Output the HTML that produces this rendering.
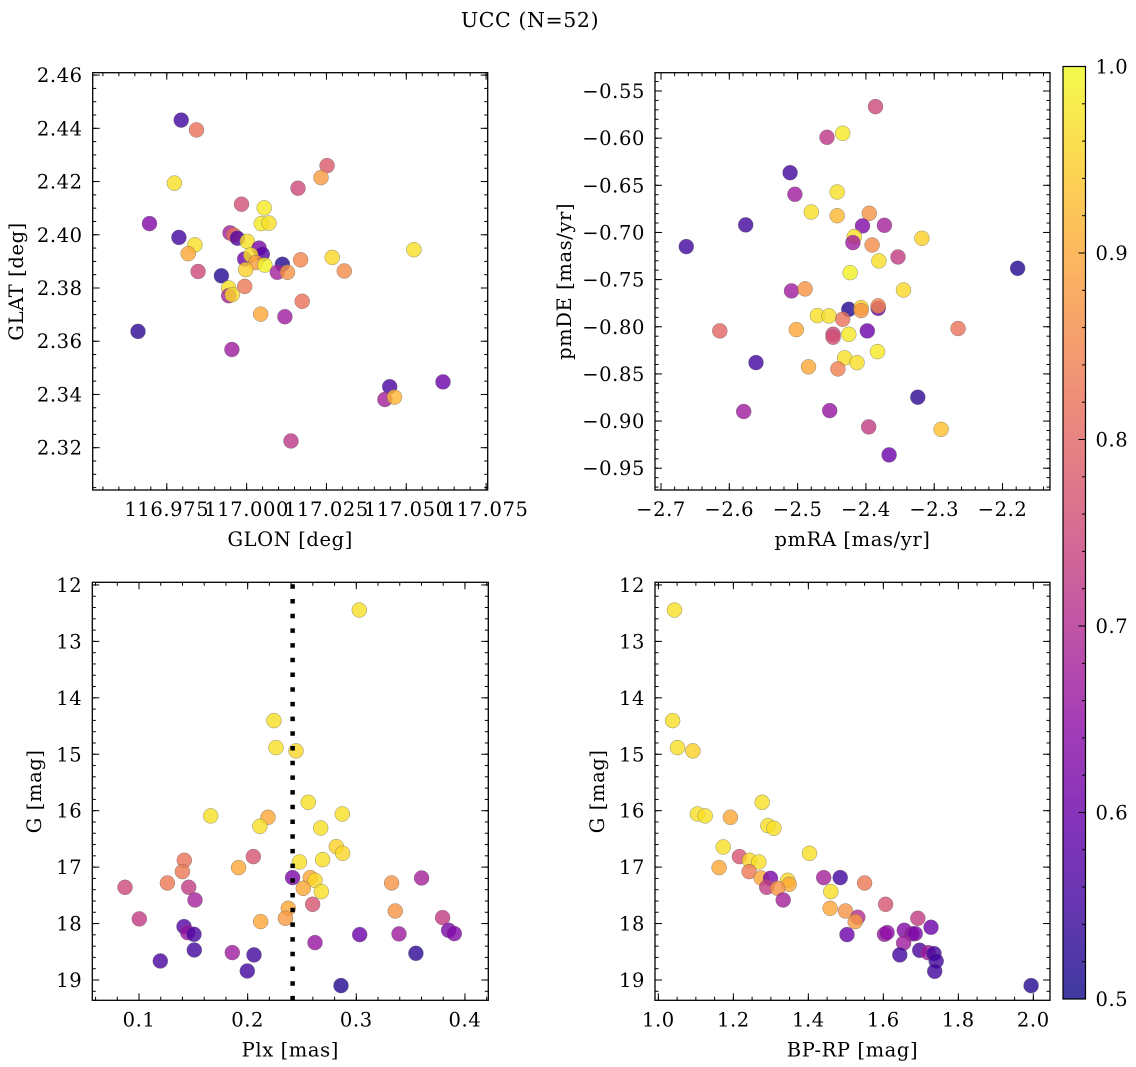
<!DOCTYPE html>
<html><head><meta charset="utf-8"><style>
html,body{margin:0;padding:0;background:#fff;}
svg{display:block;font-family:"DejaVu Serif","Liberation Serif",serif;}
text{letter-spacing:0.6px;}
</style></head><body>
<svg id="fig" width="1136" height="1067" viewBox="0 0 1136 1067" xmlns="http://www.w3.org/2000/svg">
<defs>
<linearGradient id="cbgrad" x1="0" y1="1" x2="0" y2="0">
<stop offset="0" stop-color="#0d0887"/><stop offset="0.1" stop-color="#41049d"/><stop offset="0.2" stop-color="#6a00a8"/><stop offset="0.3" stop-color="#8f0da4"/><stop offset="0.4" stop-color="#b12a90"/><stop offset="0.5" stop-color="#cc4778"/><stop offset="0.6" stop-color="#e16462"/><stop offset="0.7" stop-color="#f2844b"/><stop offset="0.8" stop-color="#fca636"/><stop offset="0.9" stop-color="#fcce25"/><stop offset="1" stop-color="#f0f921"/>
</linearGradient>
</defs>
<text x="530" y="27" text-anchor="middle" font-size="20.5">UCC (N=52)</text>
</svg>
<script>
// ---- Panel 1: GLON / GLAT ----
var glon = [116.9795,116.9843,116.9774,117.0252,117.0233,117.0161,116.9984,117.0055,116.9696,117.0046,117.0070,116.9788,116.9838,116.9948,116.9960,116.9971,116.9817,117.0002,117.0039,117.0049,117.0524,116.9994,117.0013,117.0028,117.0057,117.0112,117.0169,117.0268,116.9848,116.9921,116.9997,117.0096,117.0128,117.0306,116.9944,116.9994,116.9944,116.9955,117.0174,117.0044,117.0120,116.9660,116.9954,117.0448,117.0433,117.0463,117.0615,117.0139];
var glat = [2.4431,2.4394,2.4194,2.4260,2.4215,2.4175,2.4115,2.4101,2.4042,2.4042,2.4044,2.3990,2.3962,2.4007,2.3999,2.3987,2.3929,2.3975,2.3950,2.3927,2.3944,2.3909,2.3924,2.3896,2.3886,2.3889,2.3906,2.3915,2.3862,2.3846,2.3869,2.3859,2.3859,2.3864,2.3800,2.3806,2.3771,2.3775,2.3750,2.3702,2.3692,2.3637,2.3569,2.3429,2.3381,2.3390,2.3447,2.3225];
var prob1 = [.55,.82,.97,.78,.88,.75,.76,.98,.63,.98,.97,.55,.97,.68,.82,.57,.9,.97,.62,.57,.97,.6,.97,.88,.99,.52,.85,.96,.75,.52,.95,.68,.87,.86,.97,.83,.68,.96,.82,.9,.67,.53,.67,.56,.68,.92,.6,.72];
var glonTicks = [116.975,117.000,117.025,117.050,117.075];
var glonTickLabels = ["116.975","117.000","117.025","117.050","117.075"];
var glatTicks = [2.32,2.34,2.36,2.38,2.40,2.42,2.44,2.46];
var glatTickLabels = ["2.32","2.34","2.36","2.38","2.40","2.42","2.44","2.46"];
// ---- Panel 2: pmRA / pmDE ----
var pmra = [-2.386,-2.457,-2.434,-2.511,-2.504,-2.442,-2.480,-2.442,-2.395,-2.576,-2.405,-2.373,-2.663,-2.417,-2.419,-2.391,-2.318,-2.353,-2.381,-2.178,-2.423,-2.509,-2.489,-2.345,-2.425,-2.407,-2.407,-2.382,-2.382,-2.471,-2.454,-2.434,-2.614,-2.502,-2.448,-2.448,-2.425,-2.398,-2.265,-2.561,-2.431,-2.413,-2.383,-2.484,-2.441,-2.324,-2.579,-2.453,-2.396,-2.290,-2.366];
var pmde = [-.5666,-.5991,-.5949,-.6366,-.6595,-.6571,-.6783,-.6822,-.6797,-.692,-.6931,-.6924,-.715,-.7044,-.7108,-.7133,-.7062,-.726,-.7302,-.738,-.7426,-.762,-.7599,-.761,-.7815,-.7797,-.7829,-.7804,-.7779,-.7882,-.7885,-.792,-.8044,-.803,-.808,-.8111,-.808,-.8044,-.8019,-.838,-.833,-.838,-.8263,-.8426,-.8447,-.8747,-.8899,-.8889,-.9062,-.9087,-.9359];
var prob2 = [.75,.72,.98,.55,.67,.97,.97,.92,.87,.55,.63,.68,.55,.97,.67,.86,.95,.73,.97,.52,.99,.67,.87,.96,.52,.95,.87,.6,.85,.97,.97,.82,.8,.9,.75,.76,.98,.6,.82,.55,.97,.97,.98,.9,.84,.53,.67,.66,.73,.93,.6];
var pmraTicks = [-2.7,-2.6,-2.5,-2.4,-2.3,-2.2];
var pmraTickLabels = ["\u22122.7","\u22122.6","\u22122.5","\u22122.4","\u22122.3","\u22122.2"];
var pmdeTicks = [-0.95,-0.90,-0.85,-0.80,-0.75,-0.70,-0.65,-0.60,-0.55];
var pmdeTickLabels = ["\u22120.95","\u22120.90","\u22120.85","\u22120.80","\u22120.75","\u22120.70","\u22120.65","\u22120.60","\u22120.55"];
// ---- Panel 3: Plx / G ----
var plx = [.3028,.2242,.2261,.2445,.2558,.166,.2187,.2113,.2871,.2672,.2816,.2874,.269,.2052,.1417,.2476,.1917,.1399,.2414,.3601,.2577,.262,.1261,.3325,.0871,.1457,.2512,.2678,.1515,.2598,.2374,.3359,.2347,.212,.1003,.3794,.1414,.1448,.1506,.3031,.3393,.385,.3902,.262,.1509,.1859,.2058,.1196,.3549,.1997,.2859];
var gmag3 = [12.443,14.404,14.882,14.941,15.851,16.093,16.117,16.276,16.058,16.306,16.637,16.755,16.867,16.814,16.879,16.909,17.009,17.08,17.186,17.192,17.186,17.233,17.281,17.281,17.357,17.357,17.375,17.434,17.582,17.659,17.729,17.777,17.907,17.966,17.918,17.895,18.054,18.161,18.19,18.196,18.184,18.119,18.178,18.338,18.468,18.515,18.556,18.663,18.527,18.84,19.1];
var prob3 = [.97,.97,.97,.96,.97,.97,.9,.97,.97,.97,.95,.96,.97,.77,.82,.97,.9,.83,.62,.68,.9,.96,.83,.87,.75,.73,.9,.97,.68,.77,.9,.87,.88,.9,.73,.73,.57,.66,.56,.6,.67,.62,.63,.66,.55,.67,.55,.56,.53,.55,.52];
var plxMedian = [0.2414];
var plxTicks = [0.1,0.2,0.3,0.4];
var plxTickLabels = ["0.1","0.2","0.3","0.4"];
var gTicks = [12,13,14,15,16,17,18,19];
var gTickLabels = ["12","13","14","15","16","17","18","19"];
// ---- Panel 4: BP-RP / G ----
var bprp = [1.043,1.038,1.051,1.092,1.277,1.104,1.125,1.192,1.292,1.308,1.173,1.403,1.216,1.243,1.268,1.162,1.242,1.485,1.441,1.55,1.274,1.299,1.345,1.349,1.289,1.318,1.46,1.333,1.606,1.458,1.499,1.532,1.525,1.692,1.727,1.503,1.603,1.61,1.656,1.676,1.685,1.654,1.644,1.697,1.719,1.735,1.741,1.737,1.994];
var gmag4 = [12.443,14.404,14.882,14.941,15.851,16.058,16.093,16.117,16.265,16.312,16.643,16.755,16.814,16.879,16.909,17.009,17.08,17.186,17.186,17.281,17.192,17.198,17.233,17.304,17.357,17.375,17.434,17.582,17.659,17.729,17.777,17.889,17.966,17.907,18.066,18.196,18.19,18.161,18.119,18.184,18.178,18.344,18.556,18.474,18.515,18.533,18.663,18.846,19.1];
var prob4 = [.97,.97,.97,.95,.97,.97,.97,.9,.97,.97,.97,.97,.77,.96,.97,.9,.83,.55,.68,.83,.9,.62,.96,.9,.73,.87,.97,.68,.77,.9,.87,.7,.88,.73,.6,.6,.66,.65,.63,.66,.62,.67,.55,.56,.67,.55,.55,.55,.52];
var bprpTicks = [1.0,1.2,1.4,1.6,1.8,2.0];
var bprpTickLabels = ["1.0","1.2","1.4","1.6","1.8","2.0"];
// ---- Colorbar ----
var cbTicks = [0.5,0.6,0.7,0.8,0.9,1.0];
var cbTickLabels = ["0.5","0.6","0.7","0.8","0.9","1.0"];

var NS = "http://www.w3.org/2000/svg";
var svg = document.getElementById("fig");
var FS = 19.5;
var stops = [[13,8,135],[65,4,157],[106,0,168],[143,13,164],[177,42,144],[204,71,120],[225,100,98],[242,132,75],[252,166,54],[252,206,37],[240,249,33]];
function plasma(v){
  var t = (v-0.5)/0.5; t = Math.max(0,Math.min(1,t));
  var f = t*10, i = Math.min(9,Math.floor(f)), r = f-i;
  var a = stops[i], b = stops[i+1];
  return "rgb("+Math.round(a[0]+(b[0]-a[0])*r)+","+Math.round(a[1]+(b[1]-a[1])*r)+","+Math.round(a[2]+(b[2]-a[2])*r)+")";
}
function mk(tag, attrs, parent){
  var e = document.createElementNS(NS, tag);
  for (var k in attrs) e.setAttribute(k, attrs[k]);
  (parent||svg).appendChild(e);
  return e;
}
function scale(d0,d1,p0,p1){ return function(v){ return p0 + (v-d0)/(d1-d0)*(p1-p0); }; }

function panel(cfg){
  var g = mk("g", {});
  
  
  var sx = scale(cfg.xd[0], cfg.xd[1], cfg.x0, cfg.x1);
  var sy = cfg.yinv ? scale(cfg.yd[0], cfg.yd[1], cfg.y0, cfg.y1) : scale(cfg.yd[0], cfg.yd[1], cfg.y1, cfg.y0);
  var pg = mk("g", {}, g);
  
  
  for (var i=0;i<cfg.xs.length;i++){
    var c = mk("circle", {cx:sx(cfg.xs[i]).toFixed(1), cy:sy(cfg.ys[i]).toFixed(1), r:7.5, fill:plasma(cfg.cs[i]), "fill-opacity":0.8, stroke:"#666", "stroke-opacity":0.7, "stroke-width":0.5}, pg);
    
    
  }
  if (cfg.vline){
    var vx = sx(cfg.vline[0]);
    var ln = mk("line", {x1:vx, x2:vx, y1:cfg.y0+2, y2:cfg.y1, stroke:"#000", "stroke-width":4.5, "stroke-dasharray":"4.5 10.2"}, g);
    
    
  }
  var tg = mk("g", {stroke:"#000", "stroke-width":1}, g);
  function xt(v, len){
    var x = sx(v); if (x < cfg.x0-0.5 || x > cfg.x1+0.5) return;
    mk("line",{x1:x,x2:x,y1:cfg.y1,y2:cfg.y1-len},tg);
    mk("line",{x1:x,x2:x,y1:cfg.y0,y2:cfg.y0+len},tg);
  }
  function yt(v, len){
    var y = sy(v); if (y < cfg.y0-0.5 || y > cfg.y1+0.5) return;
    mk("line",{x1:cfg.x0,x2:cfg.x0+len,y1:y,y2:y},tg);
    mk("line",{x1:cfg.x1,x2:cfg.x1-len,y1:y,y2:y},tg);
  }
  var lo = Math.min(cfg.xd[0],cfg.xd[1]), hi = Math.max(cfg.xd[0],cfg.xd[1]);
  for (var k=Math.ceil(lo/cfg.xm-1e-6); k*cfg.xm<=hi+1e-9; k++) xt(k*cfg.xm, 3.5);
  lo = Math.min(cfg.yd[0],cfg.yd[1]); hi = Math.max(cfg.yd[0],cfg.yd[1]);
  for (var k2=Math.ceil(lo/cfg.ym-1e-6); k2*cfg.ym<=hi+1e-9; k2++) yt(k2*cfg.ym, 3.5);
  for (var j=0;j<cfg.xt.length;j++){
    xt(cfg.xt[j], 7);
    var t = mk("text", {x:sx(cfg.xt[j]), y:cfg.y1+26, "text-anchor":"middle", "font-size":FS}, g);
    t.textContent = cfg.xl[j];
    
    
  }
  for (var j2=0;j2<cfg.yt.length;j2++){
    yt(cfg.yt[j2], 7);
    var t2 = mk("text", {x:cfg.x0-10, y:sy(cfg.yt[j2])+7, "text-anchor":"end", "font-size":FS}, g);
    t2.textContent = cfg.yl[j2];
    
    
  }
  var fr = mk("rect", {x:cfg.x0, y:cfg.y0, width:cfg.x1-cfg.x0, height:cfg.y1-cfg.y0, fill:"none", stroke:"#000", "stroke-width":1.3}, g);
  
  
  var xlab = mk("text", {x:(cfg.x0+cfg.x1)/2, y:cfg.y1+56, "text-anchor":"middle", "font-size":FS}, g);
  xlab.textContent = cfg.xtitle;
  
  
  var ylab = mk("text", {x:0, y:0, "text-anchor":"middle", "font-size":FS, transform:"translate("+cfg.ytx+","+((cfg.y0+cfg.y1)/2)+") rotate(-90)"}, g);
  ylab.textContent = cfg.ytitle;
  
  
}

panel({name:"glon-glat-panel", xs:glon, ys:glat, cs:prob1, x0:92.7, x1:487.7, y0:72.7, y1:490, xd:[116.9518,117.0755], yd:[2.3041,2.4609], xt:glonTicks, xl:glonTickLabels, yt:glatTicks, yl:glatTickLabels, xm:0.005, ym:0.005, xtitle:"GLON [deg]", ytitle:"GLAT [deg]", ytx:23});
panel({name:"pm-panel", xs:pmra, ys:pmde, cs:prob2, x0:655, x1:1050, y0:72.7, y1:490, xd:[-2.7088,-2.1305], yd:[-0.9731,-0.5306], xt:pmraTicks, xl:pmraTickLabels, yt:pmdeTicks, yl:pmdeTickLabels, xm:0.02, ym:0.01, xtitle:"pmRA [mas/yr]", ytitle:"pmDE [mas/yr]", ytx:571});
panel({name:"plx-g-panel", xs:plx, ys:gmag3, cs:prob3, x0:92.3, x1:488.3, y0:582.3, y1:1000.3, xd:[0.057,0.4215], yd:[11.953,19.36], yinv:true, xt:plxTicks, xl:plxTickLabels, yt:gTicks, yl:gTickLabels, xm:0.02, ym:0.2, xtitle:"Plx [mas]", ytitle:"G [mag]", ytx:41, vline:plxMedian});
panel({name:"cmd-panel", xs:bprp, ys:gmag4, cs:prob4, x0:655, x1:1050, y0:582.3, y1:1000.3, xd:[0.991,2.0445], yd:[11.953,19.36], yinv:true, xt:bprpTicks, xl:bprpTickLabels, yt:gTicks, yl:gTickLabels, xm:0.05, ym:0.2, xtitle:"BP-RP [mag]", ytitle:"G [mag]", ytx:604});

(function(){
  var cb = mk("g", {});
  
  
  var x0 = 1063, x1 = 1085.5, y0 = 66.5, y1 = 999;
  var sc = scale(0.5, 1.0, y1, y0);
  var r = mk("rect", {x:x0, y:y0, width:x1-x0, height:y1-y0, fill:"url(#cbgrad)", "fill-opacity":0.8}, cb);
  
  
  mk("rect", {x:x0, y:y0, width:x1-x0, height:y1-y0, fill:"none", stroke:"#000", "stroke-width":1.2}, cb);
  for (var k=25; k<=50; k++){
    var v = k*0.02; if (v>1.0001) break;
    var y = sc(v);
    mk("line", {x1:x1, x2:x1-3.5, y1:y, y2:y, stroke:"#000", "stroke-width":1}, cb);
  }
  for (var j=0;j<cbTicks.length;j++){
    var yy = sc(cbTicks[j]);
    mk("line", {x1:x1, x2:x1-7, y1:yy, y2:yy, stroke:"#000", "stroke-width":1}, cb);
    var t = mk("text", {x:x1+10, y:yy+7, "font-size":FS}, cb);
    t.textContent = cbTickLabels[j];
    
    
  }
})();
</script>
</body></html>
